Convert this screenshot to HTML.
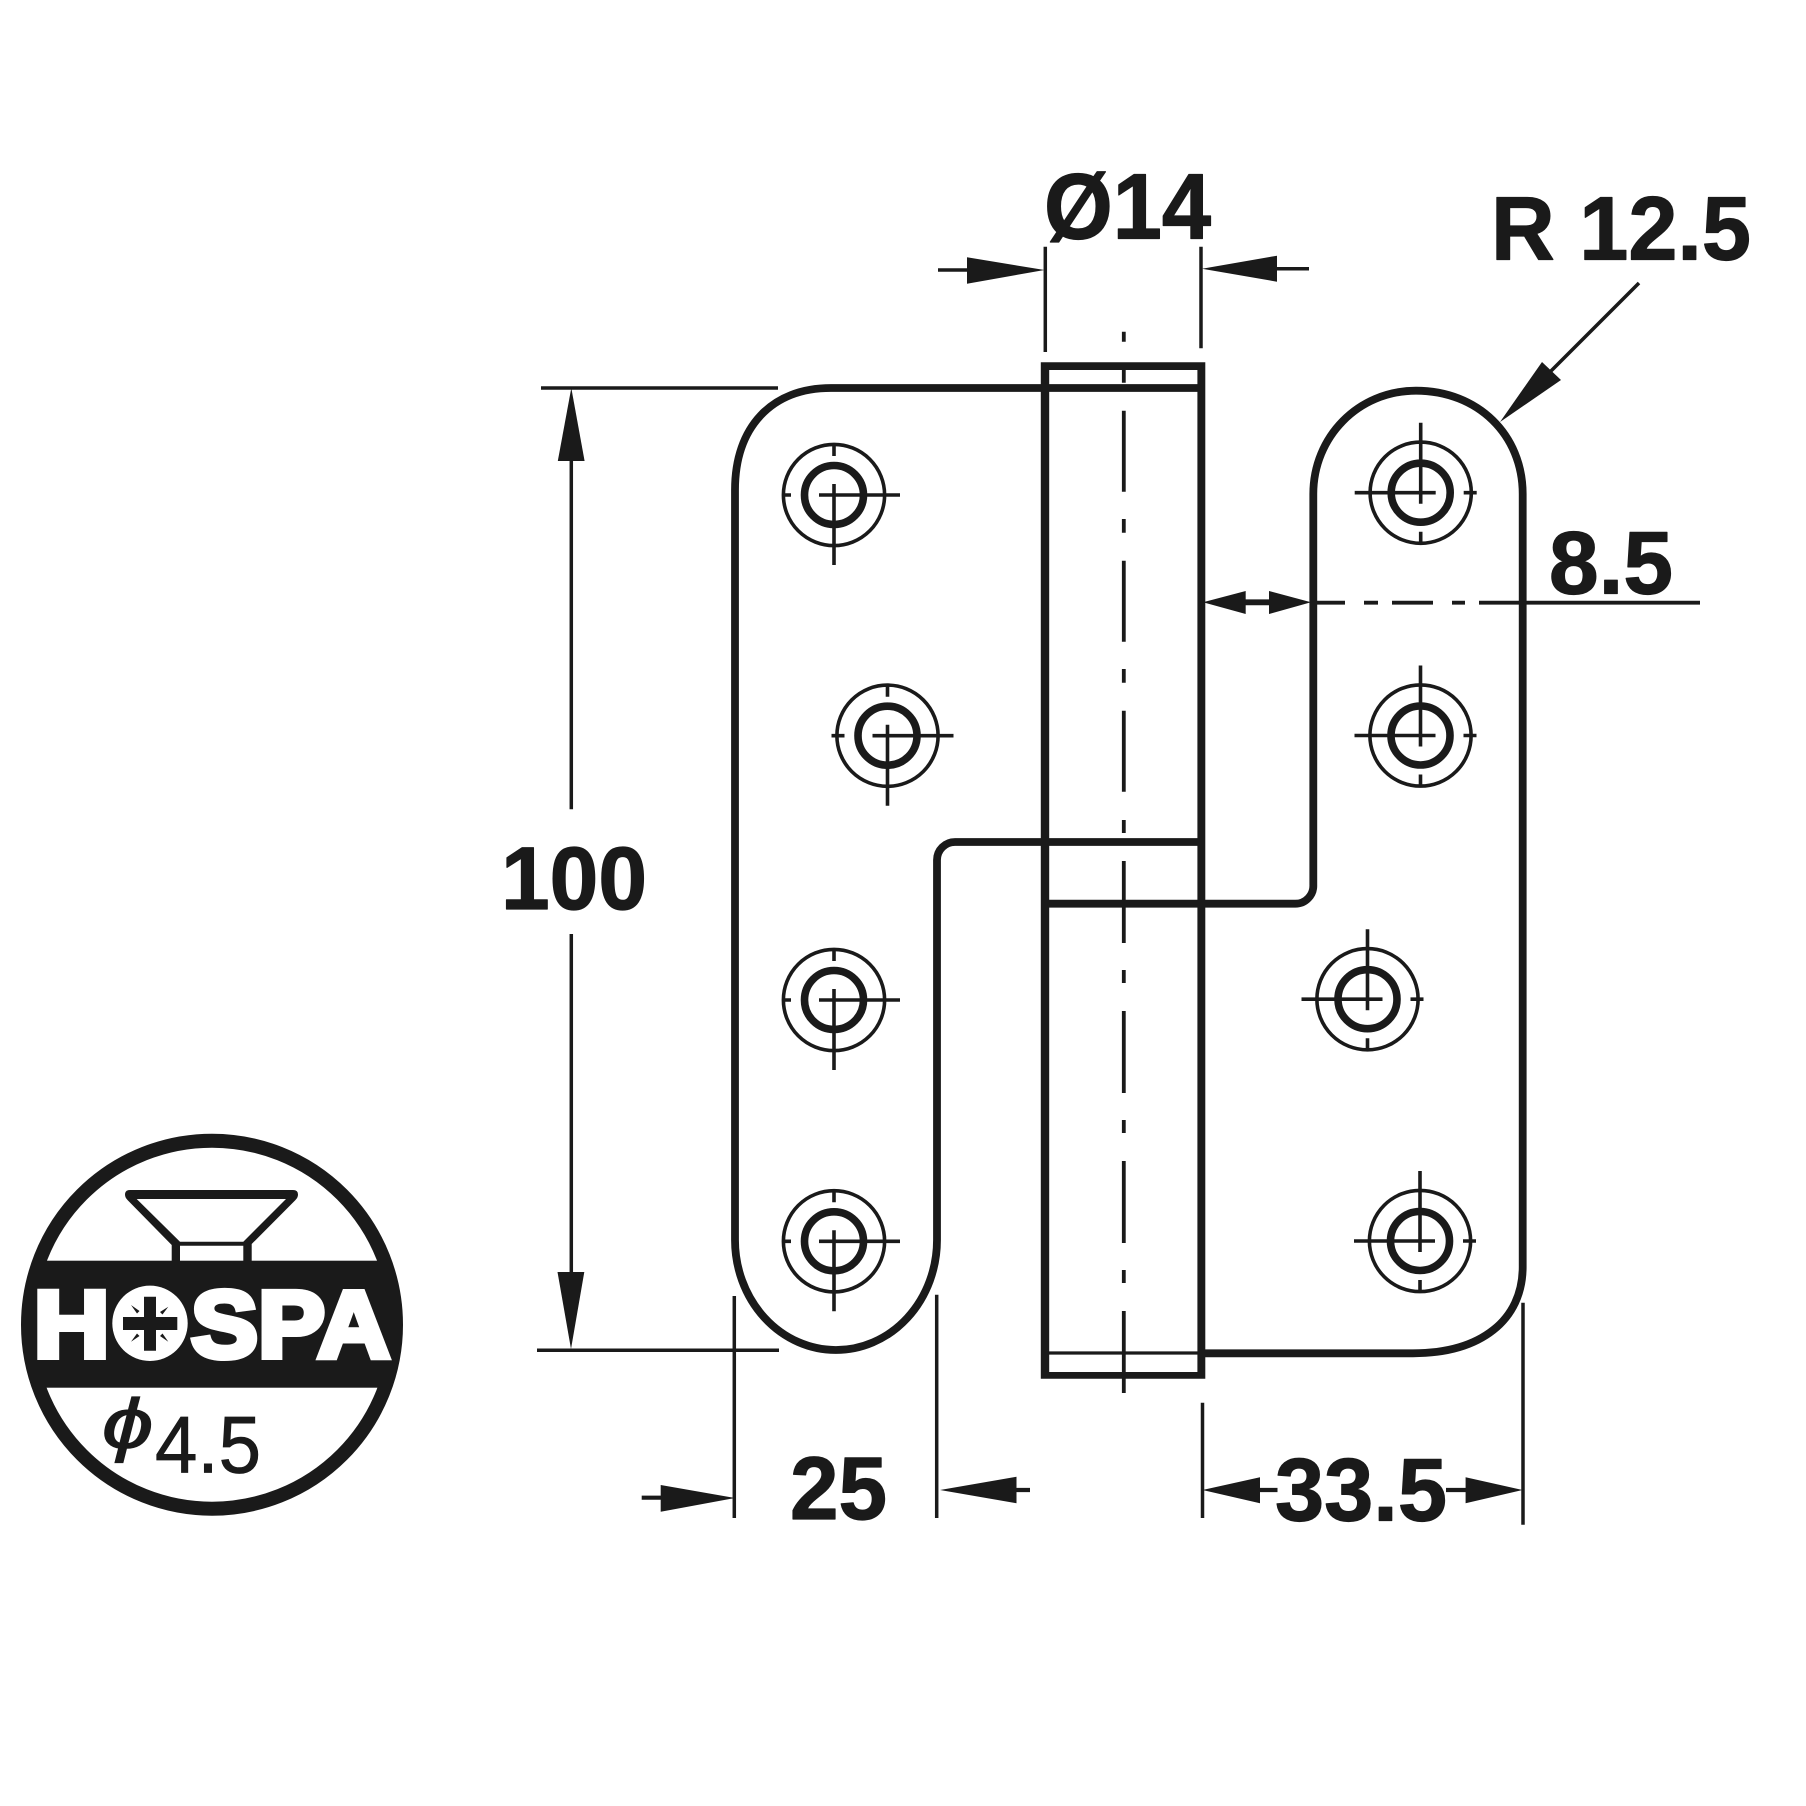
<!DOCTYPE html>
<html>
<head>
<meta charset="utf-8">
<style>
html,body{margin:0;padding:0;background:#fff}
svg{display:block}
text{font-family:"Liberation Sans",Arial,sans-serif;fill:#1a1a1a}
.b{font-weight:700;stroke:#1a1a1a;stroke-width:1.2;stroke-linejoin:round}
.k{fill:#fff;stroke:#fff;stroke-width:6;font-weight:700}
</style>
</head>
<body>
<svg xmlns="http://www.w3.org/2000/svg" width="1806" height="1806" viewBox="0 0 1806 1806">
<defs>
<clipPath id="cc"><circle cx="212" cy="1324.7" r="190"/></clipPath>
<g id="hl" fill="none" stroke="#1a1a1a">
<circle r="50.6" stroke-width="3.6"/>
<circle r="29.5" stroke-width="7.6"/>
<path d="M0-11V70M0-51V-39M-15 0H66M-49 0H-43" stroke-width="3.6"/>
</g>
<g id="hl2" fill="none" stroke="#1a1a1a">
<circle r="50.6" stroke-width="3.6"/>
<circle r="29.5" stroke-width="7.6"/>
<path d="M0-11V70M0-51V-39M-15 0H66M-56 0H-43" stroke-width="3.6"/>
</g>
<g id="hr" fill="none" stroke="#1a1a1a">
<circle r="50.6" stroke-width="3.6"/>
<circle r="29.5" stroke-width="7.6"/>
<path d="M0-70V11M0 39V52M-66 0H15M43 0H56" stroke-width="3.6"/>
</g>
</defs>
<rect width="1806" height="1806" fill="#fff"/>

<!-- plates -->
<g fill="none" stroke="#1a1a1a" stroke-width="7.8">
<path d="M1204 388H831C771.500 388 735 427 735 490V1240A101 110 0 0 0 835.500 1350A101 110 0 0 0 937 1240V860A18 18 0 0 1 955 842H1204"/>
<path stroke-linecap="round" d="M1045 903.700H1295A18 18 0 0 0 1313.300 885V494C1313.300 437 1358 390.700 1416 390.700C1478 390.700 1522.700 435 1522.700 494V1266.700C1522.700 1320 1481 1353.300 1413 1353.300H1204"/>
</g>

<!-- pin -->
<path fill="#1a1a1a" fill-rule="evenodd" d="M1040.800 362.300H1205.300V1378.700H1040.800ZM1049.200 370V1372H1197.400V370Z"/>
<path d="M1049 1353H1200" stroke="#1a1a1a" stroke-width="3.3" fill="none"/>
<!-- centre line -->
<path d="M1123.800 331.700V341.700M1123.800 369.700V382.700M1123.800 410.700V491.700M1123.800 519V532.700M1123.800 560.700V641.700M1123.800 669V682.700M1123.800 710.700V791.700M1123.800 820V833M1123.800 861V943M1123.800 970V983M1123.800 1011V1093M1123.800 1120V1133M1123.800 1161V1243M1123.800 1270V1283M1123.800 1311V1393" stroke="#1a1a1a" stroke-width="3.8" fill="none"/>

<!-- holes -->
<use href="#hl" x="834" y="495"/>
<use href="#hl2" x="887.500" y="735.700"/>
<use href="#hl" x="834" y="1000"/>
<use href="#hl" x="834" y="1241.300"/>
<use href="#hr" x="1420.700" y="492.700"/>
<use href="#hr" x="1420.500" y="735.500"/>
<use href="#hr" x="1367.500" y="999.200"/>
<use href="#hr" x="1420" y="1241"/>

<!-- dimension lines -->
<g fill="none" stroke="#1a1a1a" stroke-width="3.5">
<path d="M1045.300 246.700V352M1201 246.700V348.300"/>
<path d="M938 270H970M1275 268.700H1309"/>
<path d="M541 388H778M537 1350.300H779"/>
<path d="M571.300 460V809.300M571.300 934V1275"/>
<path d="M734.300 1296V1518M936.700 1294.700V1518M1202.500 1402.700V1518M1523 1302.700V1524.700"/>
<path d="M641.700 1497.700H665M1012 1490H1030M1256 1490H1277.500M1446 1490H1470" stroke-width="4.200"/>
<path d="M1639 283L1548 374"/>
<path d="M1317 602.700H1345M1364 602.700H1378M1392 602.700H1433M1452 602.700H1465M1479 602.700H1700" stroke-width="3.800"/>
<path d="M1244 602.300H1271" stroke-width="5.800"/>
</g>

<!-- arrowheads -->
<g fill="#1a1a1a">
<path d="M1044.500 270L967 257.300V283.700Z"/>
<path d="M1202 268.700L1277 255.700V281.700Z"/>
<path d="M571.300 388L557.800 461H584.600Z"/>
<path d="M571 1349L557.500 1272H584.300Z"/>
<path d="M735 1498L660.700 1485V1511.700Z"/>
<path d="M940 1490L1016.500 1476.700V1503.300Z"/>
<path d="M1202.500 1490L1260 1477.300V1503.300Z"/>
<path d="M1522.500 1490L1465.600 1477.300V1503.300Z"/>
<path d="M1203 602.300L1245.700 591V614Z"/>
<path d="M1311 602.300L1269 591V614Z"/>
<path d="M1500 422L1542 362L1561 380Z"/>
</g>

<!-- labels -->
<text class="b" x="1044" y="238.500" font-size="93" textLength="167" lengthAdjust="spacingAndGlyphs">Ø14</text>
<text class="b" x="1491" y="259.500" font-size="90" textLength="260" lengthAdjust="spacingAndGlyphs">R 12.5</text>
<text class="b" x="1549" y="593.500" font-size="89" textLength="124" lengthAdjust="spacingAndGlyphs">8.5</text>
<text class="b" x="501" y="909" font-size="89" textLength="146" lengthAdjust="spacingAndGlyphs">100</text>
<text class="b" x="790" y="1519" font-size="89" textLength="97" lengthAdjust="spacingAndGlyphs">25</text>
<text class="b" x="1275" y="1520.500" font-size="89" textLength="172" lengthAdjust="spacingAndGlyphs">33.5</text>

<!-- HOSPA badge -->
<circle cx="212" cy="1324.7" r="184" fill="#fff" stroke="#1a1a1a" stroke-width="14"/>
<rect x="20" y="1260.7" width="384" height="127" fill="#1a1a1a" clip-path="url(#cc)"/>
<path fill="#1a1a1a" fill-rule="evenodd" d="M125 1194.500Q125 1190 130 1190H293Q298 1190 298 1194.500Q298 1197.500 295.500 1200L251.700 1244V1261H243.300V1245.700H180V1261H171.700V1245L127.500 1200Q125 1197.500 125 1194.500ZM136.700 1199L180 1241.700H243.300L286 1199Z"/>
<text class="k" x="33.600" y="1357" font-size="94.500" textLength="76" lengthAdjust="spacingAndGlyphs">H</text>
<text x="150" y="1357" font-size="94" text-anchor="middle" font-weight="700" style="fill:#fff">O</text>
<circle cx="150" cy="1323.300" r="37.700" fill="#fff"/>
<path fill="#1a1a1a" d="M144 1296.700H156V1317H177.300V1330H156V1350.700H144V1330H123V1317H144Z"/>
<path fill="#1a1a1a" d="M131 1305L139.500 1311L137 1313.500ZM168.300 1306.700L162.500 1314.500L160 1312ZM131 1341.700L137 1333.500L139.500 1336ZM168.300 1341.700L160 1336L162.500 1333.500Z"/>
<text class="k" x="191" y="1357" font-size="94.500" textLength="199" lengthAdjust="spacingAndGlyphs">SPA</text>
<text transform="translate(102 1448) scale(1.3 1)" font-size="71" font-style="italic" stroke="#1a1a1a" stroke-width="1.2">ϕ</text>
<text x="155" y="1472.500" font-size="81" textLength="106" lengthAdjust="spacingAndGlyphs" stroke="#1a1a1a" stroke-width="0.8">4.5</text>
</svg>
</body>
</html>
